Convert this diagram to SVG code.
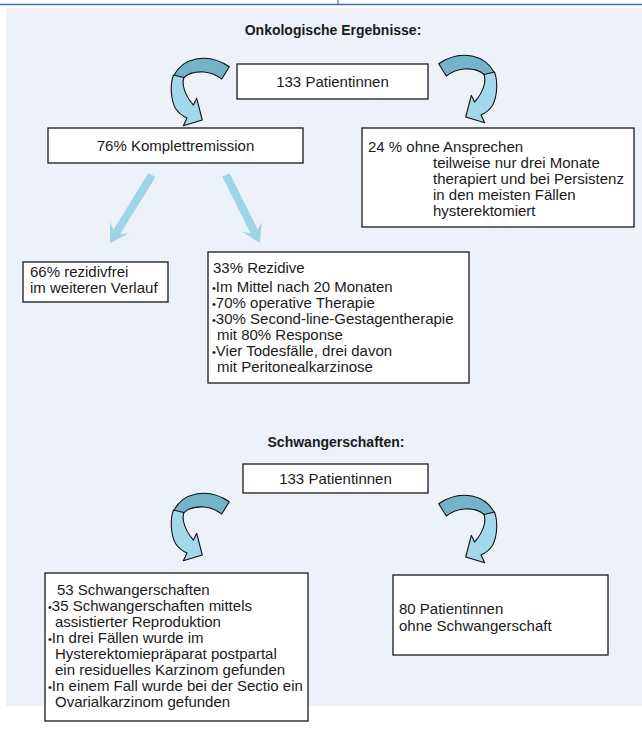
<svg xmlns="http://www.w3.org/2000/svg" xmlns:xlink="http://www.w3.org/1999/xlink" width="642" height="731" viewBox="0 0 642 731">
<style>
.box{fill:#ffffff;stroke:#1a1a1a;stroke-width:1.3}
.t{font-family:"Liberation Sans",Arial,sans-serif;font-size:15px;fill:#1a1a1a}
.b{font-family:"Liberation Sans",Arial,sans-serif;font-size:14px;font-weight:bold;fill:#1a1a1a}
.m{text-anchor:middle}
.bul{font-size:11px}
.back{fill:#74b3c8;stroke:#111;stroke-width:1.1;stroke-linejoin:round}
.front{fill:#a3d8ea;stroke:#111;stroke-width:1.1;stroke-linejoin:round}
.straight{fill:#9fd4e6}
</style>
<defs>
<g id="curve">
<path class="back" d="M229.3,66.7 C218,59 206,57 196,59 C186,61 178,67 173.5,76 L183.5,78 C188,73.5 196,71.5 204,72 C211,72.5 217,75.5 221.7,79 Z"/>
<path class="front" d="M173.5,75 C170,84 170.5,99 175.5,108.5 C178.5,113 182.5,116 187,118 L183.3,125.7 L202.3,120 L196.7,98.3 L193.4,105.1 C188.5,99.5 184.8,93 183.4,86 C182.9,83 183,80.5 183.8,77.5 Z"/>
</g>
</defs>
<rect x="6" y="8" width="636" height="698" fill="#edf1f9"/>
<line x1="0" y1="4.5" x2="642" y2="4.5" stroke="#3a6fb0" stroke-width="1.5"/>
<line x1="338" y1="0" x2="338" y2="5" stroke="#3a6fb0" stroke-width="1.2"/>

<text class="b m" x="333" y="35">Onkologische Ergebnisse:</text>
<text class="b m" x="336" y="447">Schwangerschaften:</text>

<g id="connectors">
<use xlink:href="#curve"/>
<use xlink:href="#curve" transform="translate(668,-3) scale(-1,1)"/>
<use xlink:href="#curve" transform="translate(0,435)"/>
<use xlink:href="#curve" transform="translate(668,437) scale(-1,1)"/>
<polygon class="straight" points="155.4,177.1 120.2,234.05 128.8,233.5 110,243 110.1,221.9 113.4,229.85 148.6,172.9"/>
<polygon class="straight" points="229.6,173.2 257.8,229.6 261.8,222 260,243 242.1,231.8 250.6,233.2 222.4,176.8"/>
</g>

<g id="n_patients_top">
<rect class="box" x="237" y="64" width="191" height="35"/>
<text class="t m" x="332.5" y="87">133 Patientinnen</text>
</g>

<g id="n_remission">
<rect class="box" x="48" y="128" width="255" height="35"/>
<text class="t m" x="175.5" y="151">76% Komplettremission</text>
</g>

<g id="n_noresponse">
<rect class="box" x="362" y="128" width="272" height="99"/>
<text class="t" x="368" y="152">24 % ohne Ansprechen</text>
<text class="t" x="433" y="168">teilweise nur drei Monate</text>
<text class="t" x="433" y="184">therapiert und bei Persistenz</text>
<text class="t" x="433" y="200">in den meisten Fällen</text>
<text class="t" x="433" y="216">hysterektomiert</text>
</g>

<g id="n_rezidivfrei">
<rect class="box" x="23" y="262" width="145" height="40"/>
<text class="t" x="30" y="277">66% rezidivfrei</text>
<text class="t" x="30" y="293">im weiteren Verlauf</text>
</g>

<g id="n_rezidive">
<rect class="box" x="208" y="252" width="261" height="131"/>
<text class="t" x="213" y="273">33% Rezidive</text>
<text class="t" x="212" y="292"><tspan class="bul">•</tspan>Im Mittel nach 20 Monaten</text>
<text class="t" x="212" y="308"><tspan class="bul">•</tspan>70% operative Therapie</text>
<text class="t" x="212" y="324"><tspan class="bul">•</tspan>30% Second-line-Gestagentherapie</text>
<text class="t" x="217" y="340">mit 80% Response</text>
<text class="t" x="212" y="356"><tspan class="bul">•</tspan>Vier Todesfälle, drei davon</text>
<text class="t" x="217" y="372">mit Peritonealkarzinose</text>
</g>

<g id="n_patients_bottom">
<rect class="box" x="243" y="464" width="185" height="29"/>
<text class="t m" x="335.5" y="484">133 Patientinnen</text>
</g>

<g id="n_pregnancies">
<rect class="box" x="45" y="573" width="263" height="148"/>
<text class="t" x="57" y="595">53 Schwangerschaften</text>
<text class="t" x="48" y="611"><tspan class="bul">•</tspan>35 Schwangerschaften mittels</text>
<text class="t" x="55" y="627">assistierter Reproduktion</text>
<text class="t" x="48" y="643"><tspan class="bul">•</tspan>In drei Fällen wurde im</text>
<text class="t" x="55" y="659">Hysterektomiepräparat postpartal</text>
<text class="t" x="55" y="675">ein residuelles Karzinom gefunden</text>
<text class="t" x="48" y="691"><tspan class="bul">•</tspan>In einem Fall wurde bei der Sectio ein</text>
<text class="t" x="55" y="707">Ovarialkarzinom gefunden</text>
</g>

<g id="n_nopregnancy">
<rect class="box" x="393" y="575" width="215" height="80"/>
<text class="t" x="399" y="614">80 Patientinnen</text>
<text class="t" x="399" y="631">ohne Schwangerschaft</text>
</g>
</svg>
